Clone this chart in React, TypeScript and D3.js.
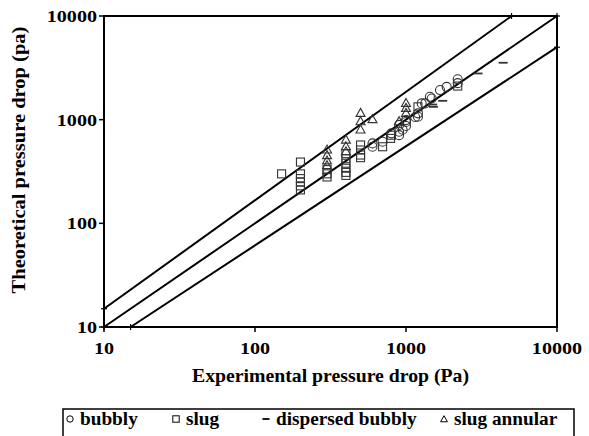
import React from "react";
import * as d3 from "d3";

const xTicks = [10, 100, 1000, 10000];
const yTicks = [10, 100, 1000, 10000];

const upperLine: [number, number][] = [[10, 15], [5000, 10000]];
const middleLine: [number, number][] = [[10, 10], [10000, 10000]];
const lowerLine: [number, number][] = [[15, 10], [10000, 5000]];

const bubbly: [number, number][] = [
  [600, 590], [600, 548], [700, 613], [800, 738], [900, 764], [900, 709], [900, 890],
  [950, 800], [1000, 870], [1000, 950], [1000, 990], [1150, 1060], [1200, 1067],
  [1200, 1150], [1270, 1435], [1340, 1435], [1440, 1665], [1480, 1600], [1680, 1930],
  [1860, 2070], [2200, 2450], [2200, 2250],
];
const slug: [number, number][] = [
  [150, 300], [200, 390], [200, 300], [200, 270], [200, 250], [200, 230], [200, 210],
  [300, 330], [300, 300], [300, 280], [400, 470], [400, 420], [400, 380], [400, 340],
  [400, 310], [400, 290], [500, 570], [500, 510], [500, 456], [500, 430], [700, 548],
  [790, 660], [800, 708], [1200, 1330], [2200, 2110],
];
const dispersedBubbly: [number, number][] = [
  [1500, 1400], [1520, 1330], [1750, 1520], [3000, 2790], [4400, 3540],
];
const slugAnnular: [number, number][] = [
  [300, 509], [300, 450], [300, 400], [300, 360], [400, 635], [400, 548], [400, 490],
  [500, 1150], [500, 955], [500, 795], [600, 1000], [900, 955], [1000, 1435],
  [1000, 1285], [1000, 1150],
];

const legendItems = ["bubbly", "slug", "dispersed bubbly", "slug annular"];

const font = "'Liberation Serif', 'Times New Roman', serif";

function T(props: { x: number; y: number; size: number; sx?: number; anchor?: string; rotate?: number; children: React.ReactNode }) {
  const { x, y, size, sx = 1.12, anchor = "start", rotate = 0, children } = props;
  return (
    <g transform={`translate(${x},${y}) rotate(${rotate}) scale(${sx},1)`}>
      <text x={0} y={0} textAnchor={anchor as any} fontFamily={font} fontWeight="bold" fontSize={size} fill="#000">{children}</text>
    </g>
  );
}

export default function App() {
  const W = 589, H = 436;
  const left = 104, right = 557, top = 16, bottom = 327;
  const x = d3.scaleLog().domain([10, 10000]).range([left, right]);
  const y = d3.scaleLog().domain([10, 10000]).range([bottom, top]);
  const line = d3.line<[number, number]>().x(d => x(d[0])).y(d => y(d[1]));
  const mk = "#333";
  const lines = [upperLine, middleLine, lowerLine];

  const tri = (cx: number, cy: number, s: number) =>
    `M${cx},${cy - s}L${cx + s * 0.9},${cy + s * 0.6}L${cx - s * 0.9},${cy + s * 0.6}Z`;

  const legendX = [70, 176, 266, 444];
  const legendY = 424;

  return (
    <svg width={W} height={H} style={{ position: "absolute", left: 0, top: 0, background: "#fff" }}>
      <rect x={0} y={0} width={W} height={H} fill="#fff" />
      <rect x={left} y={top} width={right - left} height={bottom - top} fill="none" stroke="#000" strokeWidth={2} />
      {yTicks.map(t => (
        <g key={"y" + t}>
          <line x1={left - 5} x2={left} y1={y(t)} y2={y(t)} stroke="#000" strokeWidth={1.5} />
          <T x={left - 7} y={y(t) + 6} size={17.5} sx={1.15} anchor="end">{t}</T>
        </g>
      ))}
      {xTicks.map(t => (
        <g key={"x" + t}>
          <line x1={x(t)} x2={x(t)} y1={bottom} y2={bottom + 5} stroke="#000" strokeWidth={1.5} />
          <T x={x(t)} y={bottom + 27} size={17.5} sx={1.15} anchor="middle">{t}</T>
        </g>
      ))}
      {lines.map((l, i) => (
        <g key={"l" + i}>
          <path d={line(l) || ""} fill="none" stroke="#000" strokeWidth={2} />
          {l.map((p, j) => (
            <g key={j}>
              <line x1={x(p[0]) - 3} x2={x(p[0]) + 3} y1={y(p[1])} y2={y(p[1])} stroke="#000" strokeWidth={1.2} />
              <line x1={x(p[0])} x2={x(p[0])} y1={y(p[1]) - 3} y2={y(p[1]) + 3} stroke="#000" strokeWidth={1.2} />
            </g>
          ))}
        </g>
      ))}
      {bubbly.map((p, i) => (
        <circle key={"b" + i} cx={x(p[0])} cy={y(p[1])} r={4.5} fill="none" stroke={mk} strokeWidth={1.1} />
      ))}
      {slug.map((p, i) => (
        <rect key={"s" + i} x={x(p[0]) - 4} y={y(p[1]) - 4} width={8} height={8} fill="none" stroke={mk} strokeWidth={1.1} />
      ))}
      {dispersedBubbly.map((p, i) => (
        <line key={"d" + i} x1={x(p[0]) - 4.5} x2={x(p[0]) + 4.5} y1={y(p[1])} y2={y(p[1])} stroke={mk} strokeWidth={1.8} />
      ))}
      {slugAnnular.map((p, i) => (
        <path key={"t" + i} d={tri(x(p[0]), y(p[1]), 5)} fill="none" stroke={mk} strokeWidth={1.1} />
      ))}
      <T x={(left + right) / 2} y={382} size={19} anchor="middle" sx={1.04}>Experimental pressure drop (Pa)</T>
      <T x={25} y={160} size={19} anchor="middle" rotate={-90} sx={1.08}>Theoretical pressure drop (pa)</T>
      <rect x={63} y={409} width={511} height={30} fill="none" stroke="#000" strokeWidth={1.5} />
      <circle cx={legendX[0]} cy={legendY - 5} r={3.2} fill="none" stroke="#000" strokeWidth={1} />
      <rect x={legendX[1] - 3.2} y={legendY - 8.2} width={6.4} height={6.4} fill="none" stroke="#000" strokeWidth={1} />
      <line x1={legendX[2] - 3.5} x2={legendX[2] + 3.5} y1={legendY - 5} y2={legendY - 5} stroke="#000" strokeWidth={1.8} />
      <path d={tri(legendX[3], legendY - 4.5, 3.8)} fill="none" stroke="#000" strokeWidth={1} />
      {legendItems.map((t, i) => (
        <T key={t} x={legendX[i] + 10} y={legendY + 1} size={18} sx={1.07}>{t}</T>
      ))}
    </svg>
  );
}
